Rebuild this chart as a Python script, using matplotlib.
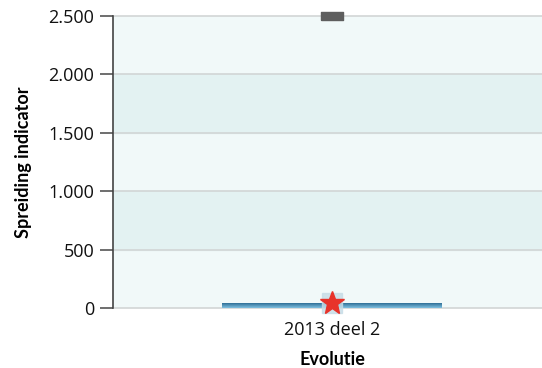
import numpy as np
import matplotlib
matplotlib.use("Agg")
from matplotlib import pyplot as plt
from matplotlib.ticker import FuncFormatter

plt.rcParams['font.family'] = ['Open Sans', 'DejaVu Sans']

categories = ['2013 deel 2']
bar_values = [45]
star_values = [40]
top_marker_values = [2500]
yticks = [0, 500, 1000, 1500, 2000, 2500]

fig = plt.figure(figsize=(5.42, 3.68), dpi=100)
ax = fig.add_axes([0.2085, 0.163, 0.808, 0.7935])

ax.set_facecolor('#f1f9f9')

# alternating bands
for i in range(len(yticks) - 1):
    if i % 2 == 1:
        ax.axhspan(yticks[i], yticks[i + 1], color='#e3f2f2', zorder=0)
for y in yticks:
    ax.axhline(y, color='#d2d6d6', lw=1.2, zorder=1, clip_on=False)

x = np.arange(len(categories))
bars = ax.bar(x, bar_values, width=0.502, color='#4f9cc4', zorder=2)
# gradient on the bar
grad = np.linspace(0, 1, 50).reshape(-1, 1)
cmap = matplotlib.colors.LinearSegmentedColormap.from_list('g', ['#7fc0e0', '#1f5f88'])
for b in bars:
    im = ax.imshow(grad, cmap=cmap, aspect='auto', origin='lower',
                   extent=[b.get_x(), b.get_x() + b.get_width(), 0, b.get_height()],
                   zorder=3)
    im.set_clip_path(b)
ax.set_xlim(-0.5, 0.5)
ax.set_ylim(0, 2500)

ax.plot(x, star_values, ls='none', marker='s', ms=15, color='#c6dce6', alpha=0.8, zorder=4, clip_on=False)
ax.plot(x, star_values, ls='none', marker='*', ms=18, color='#e8332a', mec='#e8332a', zorder=5, clip_on=False)

rect = [(-1.3, -0.5), (1.3, -0.5), (1.3, 0.5), (-1.3, 0.5), (-1.3, -0.5)]
ax.plot(x, top_marker_values, ls='none', marker=rect, ms=16, color='#5e5e5e', zorder=6, clip_on=False)

ax.set_yticks(yticks)
ax.yaxis.set_major_formatter(FuncFormatter(lambda v, p: f'{int(v):,}'.replace(',', '.')))
ax.set_xticks(x)
ax.set_xticklabels(categories)
ax.tick_params(axis='y', length=9.5, width=1.2, color='#555555', labelsize=13, pad=4, labelcolor='#111111')
ax.tick_params(axis='x', length=0, labelsize=13, pad=9, labelcolor='#111111')

for s in ['top', 'right', 'bottom']:
    ax.spines[s].set_visible(False)
ax.spines['left'].set_color('#444444')
ax.spines['left'].set_linewidth(1.2)

ax.set_ylabel('Spreiding indicator', fontsize=13, fontweight='bold', family=['Lato', 'DejaVu Sans'], labelpad=12)
ax.set_xlabel('Evolutie', fontsize=13, fontweight='bold', family=['Lato', 'DejaVu Sans'], labelpad=9)

fig.savefig('out.png', dpi=100)
